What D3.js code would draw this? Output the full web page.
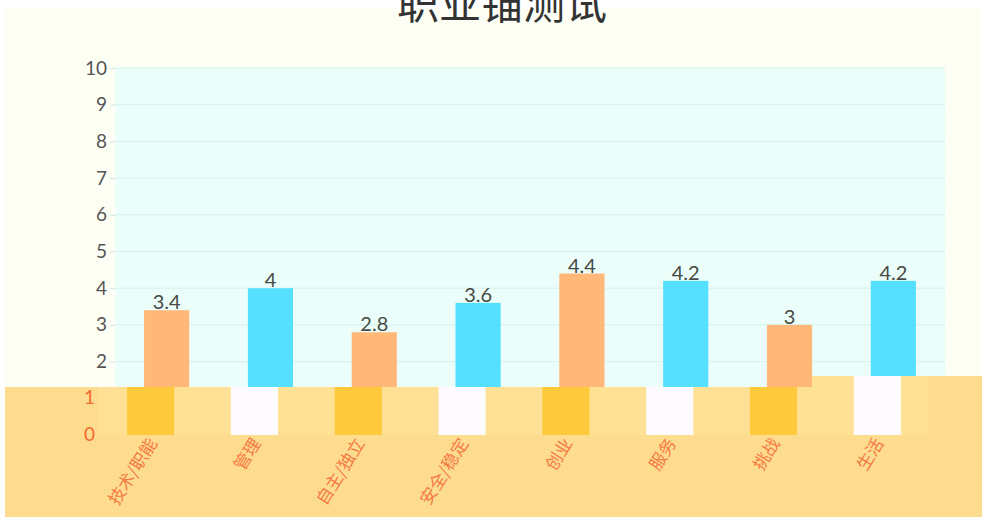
<!DOCTYPE html>
<html>
<head>
<meta charset="utf-8">
<script src="https://cdn.jsdelivr.net/npm/d3@7"></script>
<style>
  body { margin: 0; background: #ffffff; font-family: "Noto Sans CJK SC", "Lato", sans-serif; }
</style>
</head>
<body>
<div id="chart"></div>
<script>
// data
let categories = ['技术/职能', '管理', '自主/独立', '安全/稳定', '创业', '服务', '挑战', '生活'];
let scores = [3.4, 4, 2.8, 3.6, 4.4, 4.2, 3, 4.2];
let yTicks = [0, 1, 2, 3, 4, 5, 6, 7, 8, 9, 10];
let title = '职业锚测试';

let width = 982, height = 517;
let margin = { top: 68, right: 37, bottom: 82, left: 115 };

let svg = d3.select('#chart').
append('svg').
attr('width', width).
attr('height', height);

// page background
svg.append('rect').
attr('x', 5).attr('y', 8).
attr('width', width - 5).attr('height', height - 8).
attr('fill', '#fdfff4');

let x = d3.scaleBand().
domain(categories).
range([margin.left, width - margin.right]).
paddingInner(0.565).
paddingOuter(0.28);

let y = d3.scaleLinear().
domain([0, 10]).
range([height - margin.bottom, margin.top]);

// plot area
svg.append('rect').
attr('x', margin.left).
attr('y', margin.top).
attr('width', width - margin.left - margin.right).
attr('height', y(0) - margin.top).
attr('fill', '#ebfef9');

// grid lines
svg.append('g').
selectAll('line').
data(yTicks).
enter().
append('line').
attr('x1', margin.left).
attr('x2', width - margin.right).
attr('y1', d => y(d)).
attr('y2', d => y(d)).
attr('stroke', '#d6f1ee').
attr('stroke-width', 1);

// y axis
let yAxis = svg.append('g').
attr('transform', 'translate(' + margin.left + ',0)').
call(d3.axisLeft(y).tickValues(yTicks).tickSize(5).tickPadding(3));
yAxis.select('.domain').remove();
yAxis.selectAll('line').attr('stroke', '#cfe6e2');
yAxis.selectAll('text').
attr('fill', '#555').
style('font-family', 'Lato, sans-serif').
style('font-size', '19px');

// bars
let colors = ['#ffb877', '#55e0ff'];
svg.selectAll('.bar').
data(scores).
enter().
append('rect').
attr('class', 'bar').
attr('x', (d, i) => x(categories[i])).
attr('y', d => y(d)).
attr('width', x.bandwidth()).
attr('height', d => y(0) - y(d)).
attr('fill', (d, i) => colors[i % 2]);

// value labels
svg.selectAll('.val').
data(scores).
enter().
append('text').
attr('class', 'val').
attr('x', (d, i) => x(categories[i]) + x.bandwidth() / 2).
attr('y', d => y(d) - 1).
attr('text-anchor', 'middle').
attr('fill', '#474a45').
style('font-family', 'Lato, sans-serif').
style('font-size', '20px').
text(d => d);

// lower band (shifted copy of the chart base)
let shift = -17;
let bandTop = 387;
let stepX = 812, stepTop = 376;

let band = svg.append('g');
band.append('rect').
attr('x', 5).attr('y', bandTop).
attr('width', width - 5).attr('height', height - bandTop).
attr('fill', '#fedc8f');
band.append('rect').
attr('x', stepX).attr('y', stepTop).
attr('width', width - stepX).attr('height', height - stepTop).
attr('fill', '#fedc8f');
band.append('rect').
attr('x', margin.left + shift).attr('y', bandTop).
attr('width', width - margin.left - margin.right).attr('height', y(0) - bandTop).
attr('fill', '#fee194');
band.append('rect').
attr('x', stepX).attr('y', stepTop).
attr('width', width - margin.right + shift - stepX).attr('height', y(0) - stepTop).
attr('fill', '#fee194');

let lowColors = ['#fec93b', '#fdfbfd'];
band.selectAll('.low').
data(scores).
enter().
append('rect').
attr('class', 'low').
attr('x', (d, i) => x(categories[i]) + shift).
attr('y', (d, i) => x(categories[i]) + shift > stepX - 10 ? stepTop : bandTop).
attr('width', x.bandwidth() + 2).
attr('height', (d, i) => y(0) - (x(categories[i]) + shift > stepX - 10 ? stepTop : bandTop)).
attr('fill', (d, i) => lowColors[i % 2]);

// y labels inside band
band.selectAll('.lowtick').
data([0, 1]).
enter().
append('text').
attr('class', 'lowtick').
attr('x', margin.left + shift - 3).
attr('y', d => y(d)).
attr('dy', '0.32em').
attr('text-anchor', 'end').
attr('fill', '#f4692e').
style('font-family', 'Lato, sans-serif').
style('font-size', '19px').
text(d => d);

// category labels
band.selectAll('.cat').
data(categories).
enter().
append('text').
attr('class', 'cat').
attr('transform', d => 'translate(' + (x(d) + shift + x.bandwidth() / 2 + 8) + ',' + (y(0) + 8) + ') rotate(-58)').
attr('text-anchor', 'end').
attr('fill', '#f47a45').
style('font-size', '17px').
text(d => d);

// title
svg.append('text').
attr('x', 502).
attr('y', 19).
attr('text-anchor', 'middle').
attr('fill', '#333').
style('font-size', '42px').
text(title);
</script>
</body>
</html>
